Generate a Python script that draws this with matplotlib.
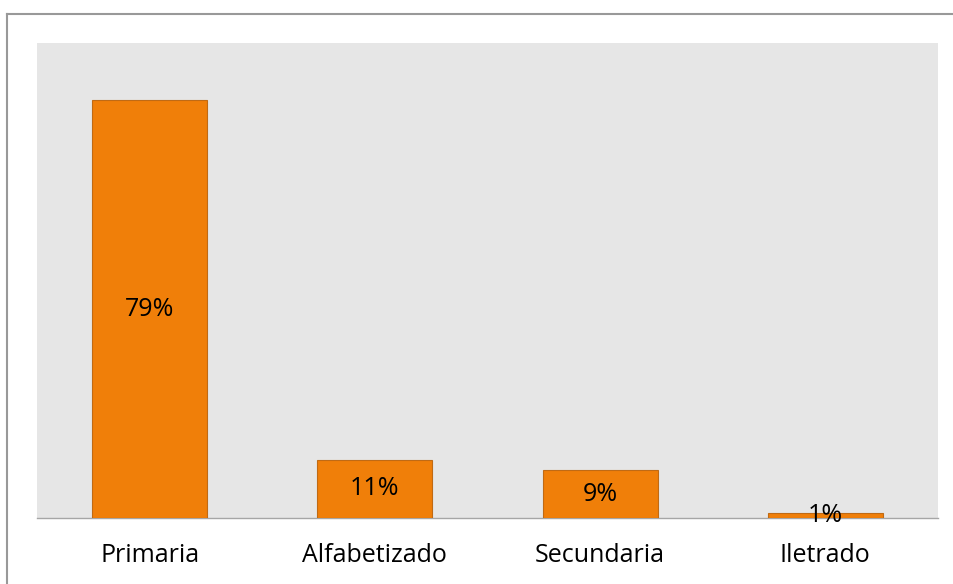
import matplotlib
matplotlib.use("Agg")
import matplotlib.pyplot as plt
from matplotlib.lines import Line2D

plt.rcParams["font.family"] = ["Open Sans", "DejaVu Sans"]

categories = ["Primaria", "Alfabetizado", "Secundaria", "Iletrado"]
values = [79, 11, 9, 1]
labels = ["79%", "11%", "9%", "1%"]

C_BAR = "#F07F09"
C_EDGE = "#C06A14"
C_BG = "#E6E6E6"
C_AXIS = "#A6A6A6"

fig = plt.figure(figsize=(9.54, 5.84), dpi=100)
W, H = 954, 584
ax = fig.add_axes([37 / W, 1 - 518 / H, (938 - 37) / W, (518 - 43) / H])
ax.set_facecolor(C_BG)

x = range(len(categories))
bars = ax.bar(x, values, width=0.51, color=C_BAR, edgecolor=C_EDGE, lw=0.8, zorder=2)
for b, lab in zip(bars, labels):
    ax.text(b.get_x() + b.get_width() / 2, b.get_height() / 2, lab,
            ha="center", va="center", fontsize=18, color="black", zorder=3)

ax.set_xlim(-0.5, len(categories) - 0.5)
ax.set_ylim(0, 89.8)
ax.set_xticks(list(x))
ax.set_xticklabels(categories, fontsize=18)
ax.tick_params(axis="x", length=0, pad=18)
ax.set_yticks([])
for s in ("top", "right", "left"):
    ax.spines[s].set_visible(False)
ax.spines["bottom"].set_color(C_AXIS)
ax.spines["bottom"].set_linewidth(1.0)
ax.spines["bottom"].set_zorder(1)

# outer chart frame (only top and left edges visible in the crop)
fig.add_artist(Line2D([7.5 / W, 7.5 / W], [0, 1 - 13.5 / H], transform=fig.transFigure,
                      color="#999999", lw=1.5))
fig.add_artist(Line2D([7.5 / W, 1], [1 - 13.5 / H, 1 - 13.5 / H], transform=fig.transFigure,
                      color="#999999", lw=1.5))

fig.savefig("out.png", dpi=100, facecolor="white")
